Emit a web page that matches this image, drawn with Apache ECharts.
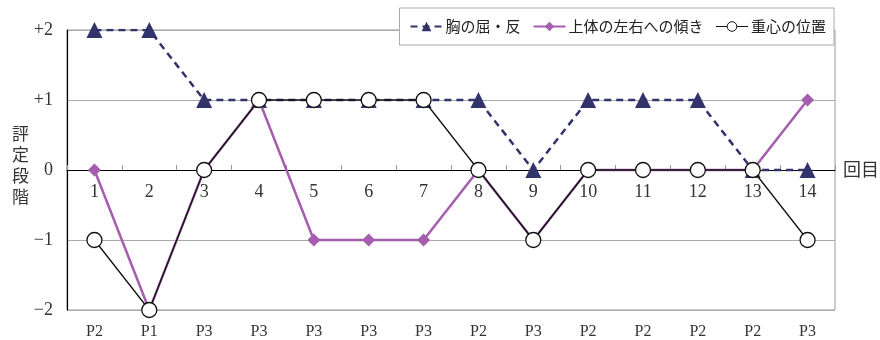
<!DOCTYPE html>
<html><head><meta charset="utf-8">
<script src="https://cdn.jsdelivr.net/npm/echarts@6/dist/echarts.min.js"></script>
<style>html,body{margin:0;padding:0;background:#fff}#c{width:880px;height:340px}</style>
</head><body><div id="c"></div>
<script>
const categories = ['1','2','3','4','5','6','7','8','9','10','11','12','13','14'];
const phaseLabels = ['P2','P1','P3','P3','P3','P3','P3','P2','P3','P2','P2','P2','P2','P3'];
const chestValues = [2,2,1,1,1,1,1,1,0,1,1,1,0,0];
const tiltValues = [0,-2,0,1,-1,-1,-1,0,-1,0,0,0,0,1];
const balanceValues = [-1,-2,0,1,1,1,1,0,-1,0,0,0,0,-1];
const yTickLabels = {'2':'+2','1':'+1','0':'0','-1':'\u22121','-2':'\u22122'};
const seriesNames = ['胸の屈・反','上体の左右への傾き','重心の位置'];

const serif = '"Liberation Serif","DejaVu Serif",serif';
const jp = '"Noto Sans CJK JP","Noto Sans",sans-serif';
const gridTop = 30, gridBottom = 30, gridHeight = 340 - gridTop - gridBottom;
const chart = echarts.init(document.getElementById('c'));
chart.setOption({
  animation:false,
  grid:[
    {left:67,right:45,top:gridTop,bottom:gridBottom,show:true,borderColor:'#999',borderWidth:1},
    {left:67,right:45,top:309,height:1,show:false}
  ],
  legend:{
    top:8,right:46,padding:[11,8,11,10],borderColor:'#aaa',borderWidth:1,backgroundColor:'#fff',
    itemGap:12,itemWidth:32,itemHeight:12,
    textStyle:{fontFamily:jp,fontSize:15,color:'#222',padding:[0,0,0,-2]},
    data:[
      {name:seriesNames[0]},
      {name:seriesNames[1]},
      {name:seriesNames[2],itemStyle:{borderWidth:1},lineStyle:{width:1}}
    ]
  },
  xAxis:[{
    type:'category',data:categories,gridIndex:0,position:'bottom',offset:-gridHeight/2,
    axisLine:{onZero:false,lineStyle:{color:'#000',width:1}},
    axisTick:{show:true,inside:true,length:5,lineStyle:{color:'#999'}},
    axisLabel:{fontFamily:serif,fontSize:18,color:'#333',margin:13},
    z:1
  },{
    type:'category',data:phaseLabels,gridIndex:1,position:'bottom',
    axisLine:{show:false,onZero:false},
    axisTick:{show:false},
    axisLabel:{fontFamily:serif,fontSize:16,color:'#333',margin:14}
  }],
  yAxis:[{
    type:'value',min:-2,max:2,interval:1,gridIndex:0,
    axisLine:{show:true,lineStyle:{color:'#000',width:1.2}},
    axisTick:{show:false},
    splitLine:{show:true,lineStyle:{color:'#aaa',width:1}},
    axisLabel:{fontFamily:serif,fontSize:18,color:'#333',margin:14,formatter:v=>yTickLabels[String(v)]}
  },{
    type:'value',gridIndex:1,show:false,min:0,max:1
  }],
  graphic:[
    {type:'text',left:12,top:123,style:{text:'評\n定\n段\n階',font:'17px '+jp,fill:'#333',lineHeight:21}},
    {type:'text',left:843,top:160,style:{text:'回目',font:'18px '+jp,fill:'#333'}}
  ],
  series:[{
    name:seriesNames[0],type:'line',data:chestValues,xAxisIndex:0,yAxisIndex:0,
    symbol:'triangle',symbolSize:16,
    lineStyle:{color:'#32336b',width:2.5,type:[7,5]},
    itemStyle:{color:'#32336b'},z:2
  },{
    name:seriesNames[1],type:'line',data:tiltValues,xAxisIndex:0,yAxisIndex:0,
    symbol:'diamond',symbolSize:13,
    lineStyle:{color:'#a45ead',width:2.5},
    itemStyle:{color:'#a45ead'},z:3
  },{
    name:seriesNames[2],type:'line',data:balanceValues,xAxisIndex:0,yAxisIndex:0,
    symbol:'circle',symbolSize:15,
    lineStyle:{color:'#111',width:1.3},
    itemStyle:{color:'#fff',borderColor:'#111',borderWidth:1.3},z:4
  }]
});
</script></body></html>
